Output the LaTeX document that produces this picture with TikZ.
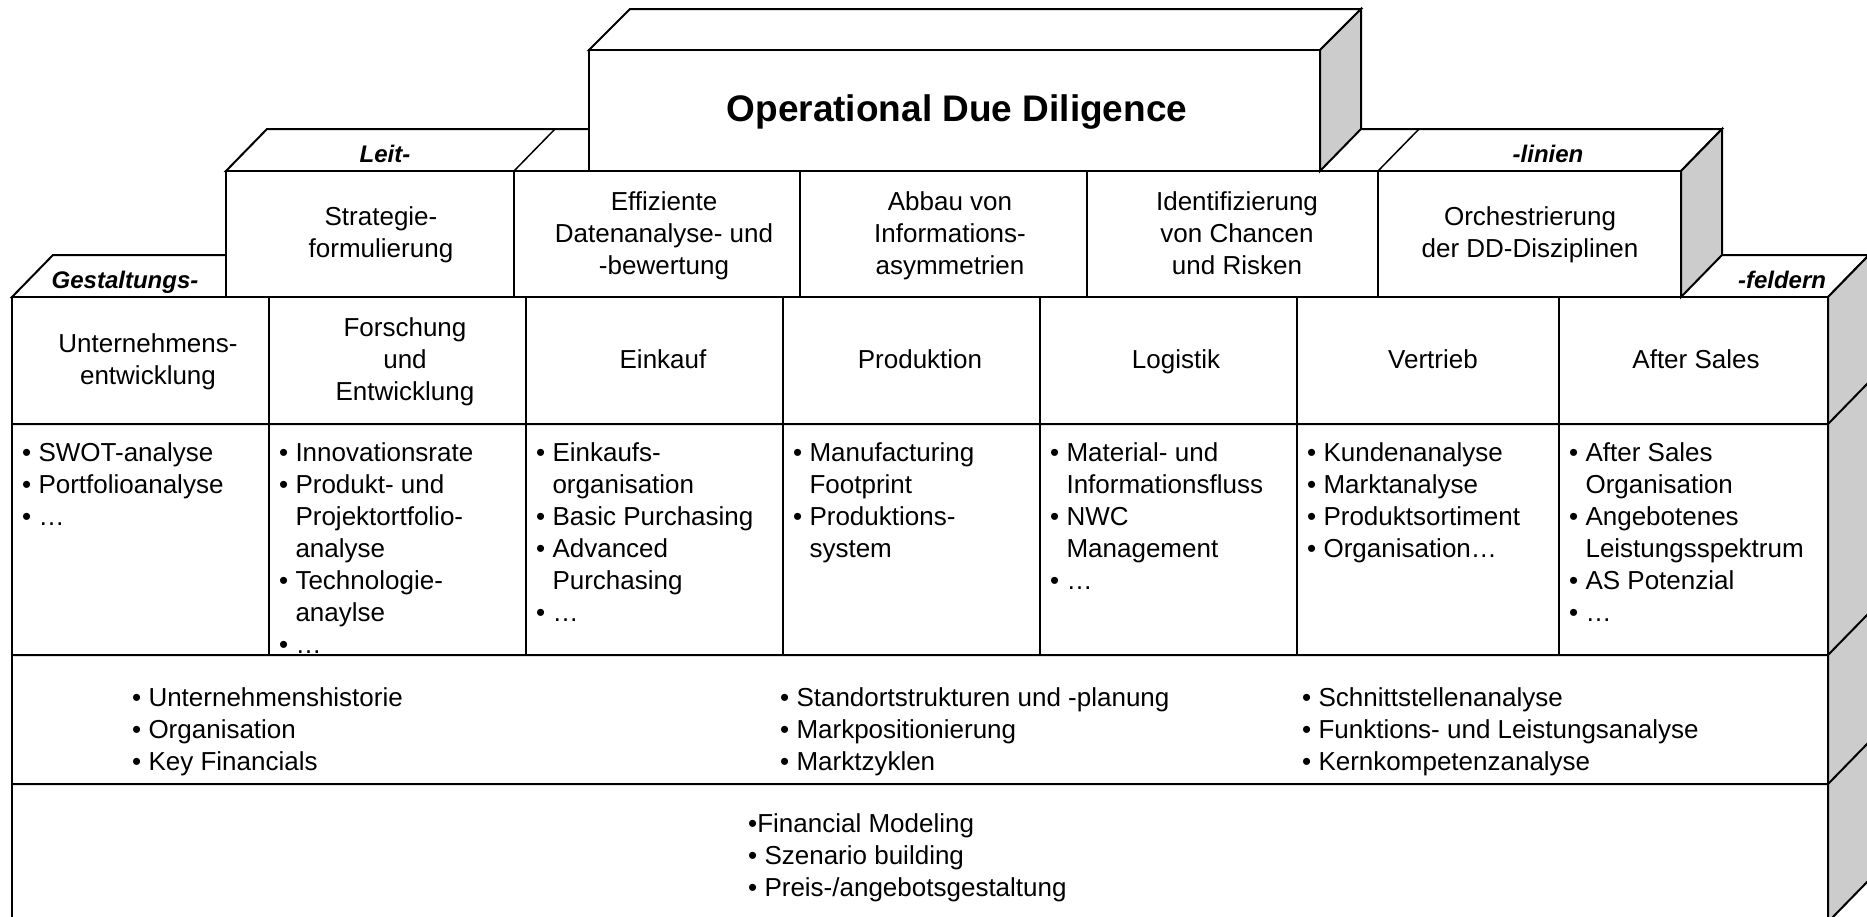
\documentclass[tikz,border=0pt]{standalone}
\usepackage{fontspec}
\setmainfont{Liberation Sans}
\definecolor{sidegray}{RGB}{204,204,204}
\newlength{\bulw}
\newcommand{\ditem}[1]{\settowidth{\bulw}{•\ }\hangindent=\bulw\hangafter=1\noindent•\ #1\par}
\newcommand{\dlist}[1]{\parbox[t]{250pt}{\fontsize{26}{32}\selectfont\raggedright\let\\\newline #1}}
\newcommand{\clines}[1]{\parbox[t]{330pt}{\fontsize{26}{32}\selectfont\centering #1}}
\newcommand{\llines}[1]{\parbox[t]{520pt}{\fontsize{26}{32}\selectfont\raggedright #1}}
\begin{document}
\begin{tikzpicture}[x=1pt,y=-1pt,line join=miter,
  frame/.style={draw=black,line width=2pt},
  face/.style={frame,fill=white},
  sideface/.style={frame,fill=sidegray},
  rowline/.style={line width=2pt},
  colline/.style={line width=1.5pt},
  toplab/.style={anchor=base,inner sep=0,font=\bfseries\itshape\fontsize{24}{29}\selectfont},
  ctext/.style={anchor=base,inner sep=0},
  ltext/.style={anchor=base west,inner sep=0}]
\useasboundingbox (0,0) rectangle (1867,916);
\clip (0,0) rectangle (1867,916);
% ---- bottom block ----
\path[face] (12,297) -- (53,255) -- (1869,255) -- (1828,297) -- cycle;
\path[sideface] (1828,297) -- (1869,255) -- (1869,880) -- (1828,922) -- cycle;
\path[face] (12,297) rectangle (1828,922);
\foreach \x in {269,526,783,1040,1297,1559} \draw[colline] (\x,297) -- (\x,655);
\foreach \y in {424,655,784} \draw[rowline] (12,\y) -- (1828,\y) -- (1869,\y-42);
% ---- middle block ----
\path[face] (226,171) -- (267,129) -- (1722,129) -- (1681,171) -- cycle;
\path[sideface] (1681,171) -- (1722,129) -- (1722,255) -- (1681,297) -- cycle;
\path[face] (226,171) rectangle (1681,297);
\foreach \x in {514,800,1087,1378} \draw[colline] (\x,171) -- (\x,297);
\draw[colline] (514,171) -- (555,129) (1378,171) -- (1419,129);
% ---- top block ----
\path[face] (589,50) -- (630,9) -- (1361,9) -- (1320,50) -- cycle;
\path[sideface] (1320,50) -- (1361,9) -- (1361,129) -- (1320,171) -- cycle;
\path[face] (589,50) rectangle (1320,171);
% ---- texts ----
\node[anchor=base,inner sep=0,font=\bfseries\fontsize{37}{44}\selectfont] (title) at (957,121) {Operational Due Diligence};
\node[toplab] (leit) at (385,162) {Leit-};
\node[toplab] (linien) at (1548,162) {-linien};
\node[toplab] (gest) at (125,288) {Gestaltungs-};
\node[toplab] (feld) at (1782,288) {-feldern};
% row 2
\node[ctext] (m1) at (381,225) {\clines{Strategie-\\formulierung}};
\node[ctext] (m2) at (664,210) {\clines{Effiziente\\Datenanalyse- und\\-bewertung}};
\node[ctext] (m3) at (950,210) {\clines{Abbau von\\Informations-\\asymmetrien}};
\node[ctext] (m4) at (1237,210) {\clines{Identifizierung\\von Chancen\\und Risken}};
\node[ctext] (m5) at (1530,225) {\clines{Orchestrierung\\der DD-Disziplinen}};
% row 3 headers
\node[ctext] (h1) at (148,352) {\clines{Unternehmens-\\entwicklung}};
\node[ctext] (h2) at (405,336) {\clines{Forschung\\und\\Entwicklung}};
\node[ctext] (h3) at (663,368) {\clines{Einkauf}};
\node[ctext] (h4) at (920,368) {\clines{Produktion}};
\node[ctext] (h5) at (1176,368) {\clines{Logistik}};
\node[ctext] (h6) at (1433,368) {\clines{Vertrieb}};
\node[ctext] (h7) at (1696,368) {\clines{After Sales}};
% details
\node[ltext] (d1) at (22,461) {\dlist{\ditem{SWOT-analyse}\ditem{Portfolioanalyse}\ditem{…}}};
\node[ltext] (d2) at (279,461) {\dlist{\ditem{Innovationsrate}\ditem{Produkt- und\\Projektortfolio-\\analyse}\ditem{Technologie-\\anaylse}\ditem{…}}};
\node[ltext] (d3) at (536,461) {\dlist{\ditem{Einkaufs-\\organisation}\ditem{Basic Purchasing}\ditem{Advanced\\Purchasing}\ditem{…}}};
\node[ltext] (d4) at (793,461) {\dlist{\ditem{Manufacturing\\Footprint}\ditem{Produktions-\\system}}};
\node[ltext] (d5) at (1050,461) {\dlist{\ditem{Material- und\\Informationsfluss}\ditem{NWC\\Management}\ditem{…}}};
\node[ltext] (d6) at (1307,461) {\dlist{\ditem{Kundenanalyse}\ditem{Marktanalyse}\ditem{Produktsortiment}\ditem{Organisation…}}};
\node[ltext] (d7) at (1569,461) {\dlist{\ditem{After Sales\\Organisation}\ditem{Angebotenes\\Leistungsspektrum}\ditem{AS Potenzial}\ditem{…}}};
% row 4
\node[ltext] (g1) at (132,706) {\llines{• Unternehmenshistorie\\• Organisation\\• Key Financials}};
\node[ltext] (g2) at (780,706) {\llines{• Standortstrukturen und -planung\\• Markpositionierung\\• Marktzyklen}};
\node[ltext] (g3) at (1302,706) {\llines{• Schnittstellenanalyse\\• Funktions- und Leistungsanalyse\\• Kernkompetenzanalyse}};
% row 5
\node[ltext] (f1) at (748,832) {\llines{•Financial Modeling\\• Szenario building\\• Preis-/angebotsgestaltung}};
\end{tikzpicture}
\end{document}
